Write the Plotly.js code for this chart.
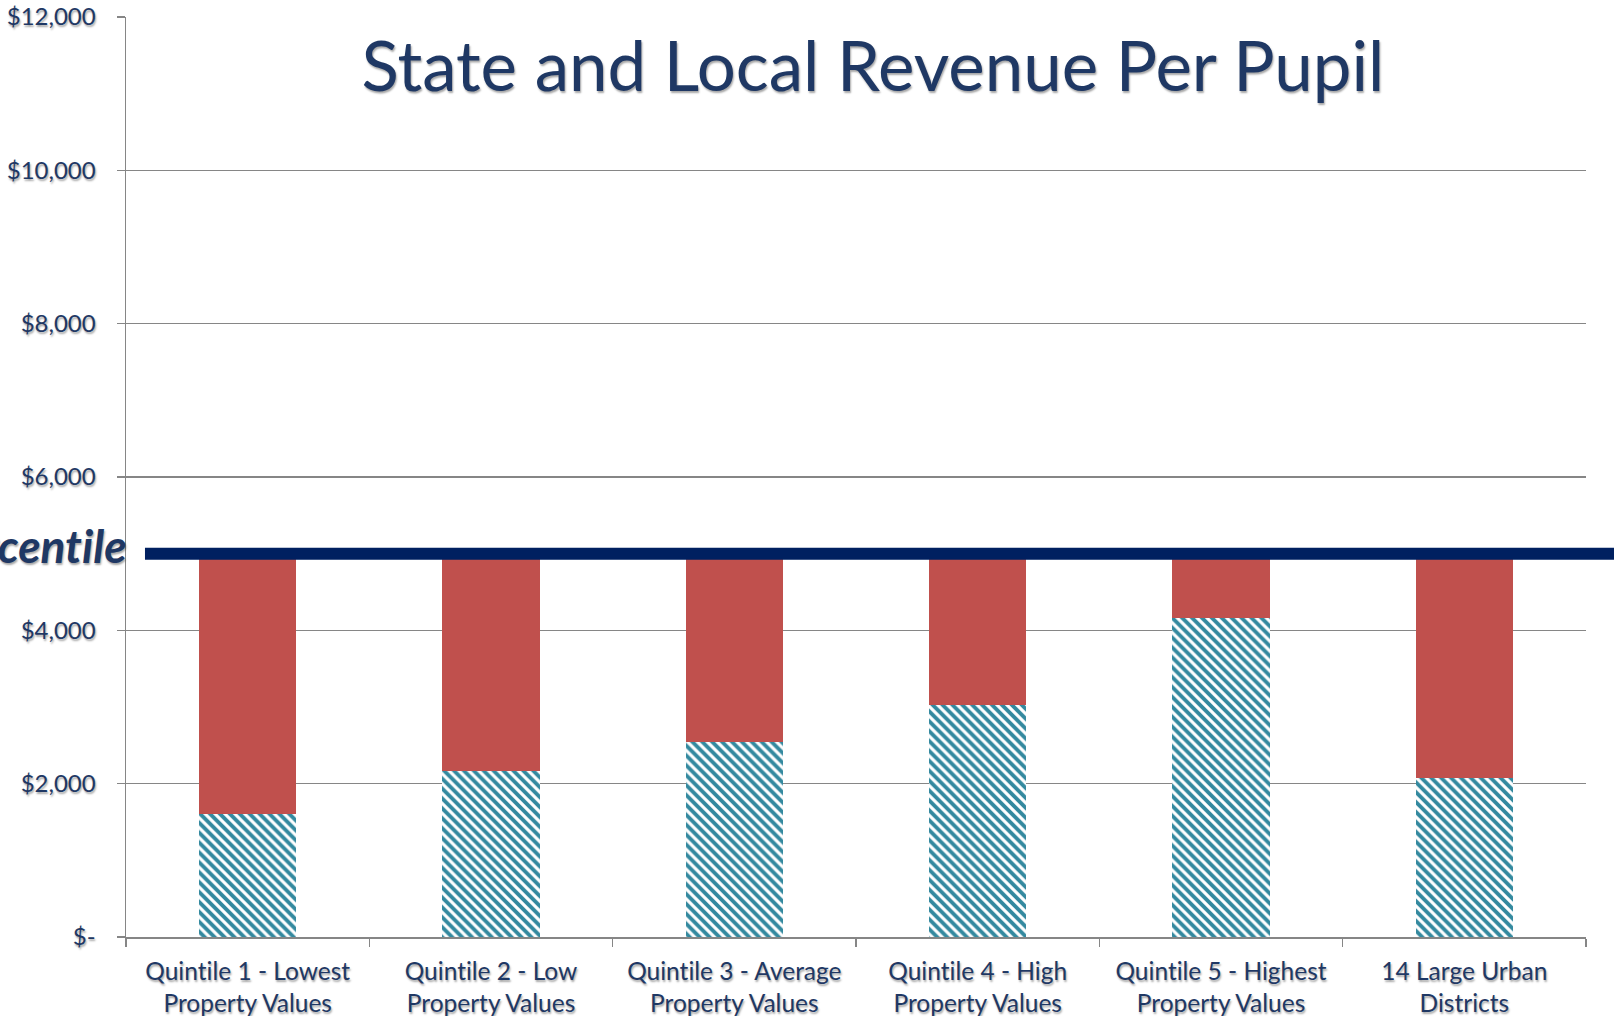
<!DOCTYPE html>
<html>
<head>
<meta charset="utf-8">
<script src="https://cdn.plot.ly/plotly-3.0.1.min.js"></script>
<style>
html,body{margin:0;padding:0;background:#fff;}
#chart{width:1614px;height:1016px;}
#chart text{font-variant-ligatures:none;font-feature-settings:"liga" 0;}
</style>
</head>
<body>
<div id="chart"></div>
<script>
const categories = [
  "Quintile 1 - Lowest<br>Property Values",
  "Quintile 2 - Low<br>Property Values",
  "Quintile 3 - Average<br>Property Values",
  "Quintile 4 - High<br>Property Values",
  "Quintile 5 - Highest<br>Property Values",
  "14 Large Urban<br>Districts"
];
const localRevenue = [1610, 2165, 2540, 3025, 4155, 2070];
const stateRevenue = [3390, 2835, 2460, 1975, 845, 2930];
const percentileValue = 5000;
const percentileLabel = "80th Percentile";
const yTickVals = [0, 2000, 4000, 6000, 8000, 10000, 12000];
const yTickText = ["$-", "$2,000", "$4,000", "$6,000", "$8,000", "$10,000", "$12,000"];

const navy = "#1F3864";
const shadow = "1px 2px 2px rgba(0,0,0,0.35)";
const fontFam = "Lato, 'Open Sans', sans-serif";

const traces = [
  {
    type: "bar",
    name: "Local Revenue",
    x: categories,
    y: localRevenue,
    width: 0.4,
    marker: {
      color: "#ffffff",
      line: {width: 0},
      pattern: {shape: "\\", fgcolor: "#33899F", bgcolor: "#ffffff", size: 7, solidity: 0.55}
    },
    hoverinfo: "y"
  },
  {
    type: "bar",
    name: "State Revenue",
    x: categories,
    y: stateRevenue,
    width: 0.4,
    marker: {color: "#C0504D", line: {width: 0}},
    hoverinfo: "y"
  }
];

const layout = {
  width: 1614,
  height: 1016,
  barmode: "stack",
  showlegend: false,
  paper_bgcolor: "#ffffff",
  plot_bgcolor: "#ffffff",
  margin: {l: 126, r: 28, t: 17, b: 79},
  font: {family: fontFam, color: navy},
  title: {
    text: "State and Local Revenue Per Pupil",
    font: {family: fontFam, size: 69, color: navy, shadow: shadow},
    x: 0.5116, xref: "paper", xanchor: "center",
    y: 0.946, yref: "paper", yanchor: "middle"
  },
  xaxis: {
    tickvals: categories,
    ticktext: categories,
    tickson: "boundaries",
    ticks: "outside",
    ticklen: 8,
    tickcolor: "#868686",
    tickwidth: 1.5,
    ticklabelstandoff: 12,
    showline: true,
    linecolor: "#868686",
    linewidth: 1.5,
    showgrid: false,
    tickfont: {family: fontFam, size: 24.5, color: navy, shadow: shadow},
    tickangle: 0,
    fixedrange: true
  },
  yaxis: {
    range: [0, 12000],
    tickvals: yTickVals,
    ticktext: yTickText,
    ticks: "outside",
    ticklen: 8,
    tickcolor: "#868686",
    tickwidth: 1.5,
    ticklabelstandoff: 16,
    showline: true,
    linecolor: "#868686",
    linewidth: 1.5,
    showgrid: true,
    gridcolor: "#868686",
    gridwidth: 1.5,
    zeroline: false,
    tickfont: {family: fontFam, size: 24, color: navy, shadow: shadow},
    fixedrange: true
  },
  shapes: [
    {
      type: "line",
      xref: "paper", yref: "y",
      x0: 0.013, x1: 1.02,
      y0: percentileValue, y1: percentileValue,
      line: {color: "#002060", width: 12},
      layer: "above"
    }
  ],
  annotations: [
    {
      xref: "paper", yref: "y",
      x: 0, y: percentileValue,
      xanchor: "right", yanchor: "middle",
      xshift: 2, yshift: 8,
      showarrow: false,
      text: "<b><i>" + percentileLabel + "</i></b>",
      font: {family: fontFam, size: 46, color: navy, shadow: shadow}
    }
  ]
};

Plotly.newPlot("chart", traces, layout, {displayModeBar: false, staticPlot: true});
</script>
</body>
</html>
